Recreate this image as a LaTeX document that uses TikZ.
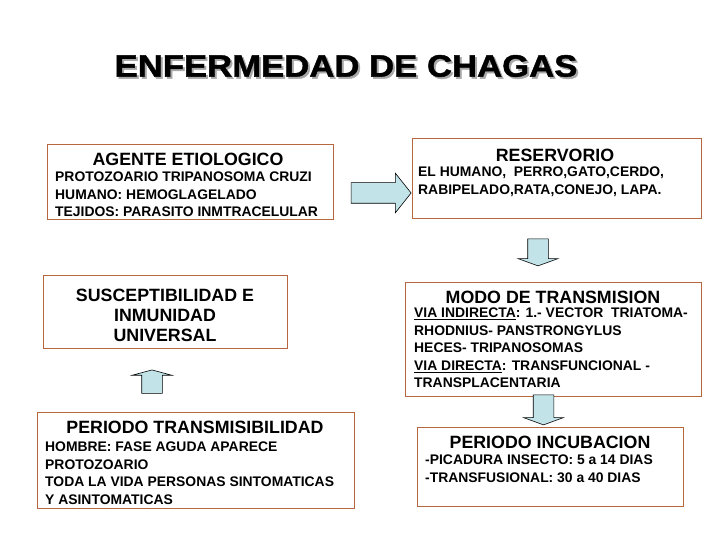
\documentclass[tikz,border=0pt]{standalone}
\usepackage{fontspec}
\setmainfont{Liberation Sans}
\newfontfamily\gruesa[FakeBold=1.2]{Liberation Sans Bold}
\usetikzlibrary{shapes.arrows}
\definecolor{ChagasBorde}{HTML}{B5673F}
\definecolor{ChagasCeleste}{HTML}{C2E4E8}
\definecolor{ChagasSombra}{HTML}{A8A8A8}
\tikzset{caja/.style={draw=ChagasBorde,line width=1pt,inner sep=0pt},
titulo/.style={font=\fontsize{31}{31}\gruesa,inner sep=0pt},
encabezado/.style={font=\fontsize{17.8}{20}\selectfont\bfseries,inner sep=0pt},
texto/.style={font=\fontsize{13.9}{17.5}\selectfont\bfseries,align=left,anchor=north west,inner sep=0pt},
flecha/.style={single arrow,draw=black,line width=0.6pt,fill=ChagasCeleste,inner sep=10pt,
single arrow head extend=9.5pt}}

\begin{document}
\begin{tikzpicture}[x=1pt,y=-1pt]
\useasboundingbox[fill=white](0,0)rectangle(720,540);
% titulo
\node[titulo,text=ChagasSombra](sombra)at(348,68){\scalebox{1.12}[1]{ENFERMEDAD DE CHAGAS}};
\node[titulo](titulo)at(346,66){\scalebox{1.12}[1]{ENFERMEDAD DE CHAGAS}};
% cajas
\node[caja,minimum width=286pt,minimum height=75pt](agente)at(190,182.5){};
\node[caja,minimum width=289pt,minimum height=80pt](reservorio)at(556.5,179){};
\node[caja,minimum width=244pt,minimum height=73pt](suscept)at(165,311.5){};
\node[caja,minimum width=296pt,minimum height=114pt](modo)at(553,339){};
\node[caja,minimum width=317pt,minimum height=96pt](transmis)at(195.5,460){};
\node[caja,minimum width=266pt,minimum height=79pt](incub)at(550,466.5){};
% textos
\node[encabezado](agenteT)at(188,159){AGENTE ETIOLOGICO};
\node[texto](agenteB)at(55,172){PROTOZOARIO TRIPANOSOMA CRUZI\\HUMANO: HEMOGLAGELADO\\TEJIDOS: PARASITO INMTRACELULAR};
\node[encabezado](reservorioT)at(555,155){RESERVORIO};
\node[texto](reservorioB)at(418,167){EL HUMANO,\ \ PERRO,GATO,CERDO,\\RABIPELADO,RATA,CONEJO, LAPA.};
\node[encabezado,align=center](susceptT)at(165,315){SUSCEPTIBILIDAD E\\INMUNIDAD\\UNIVERSAL};
\node[encabezado](modoT)at(553,297){MODO DE TRANSMISION};
\node[texto](modoB)at(414,308){\underline{VIA INDIRECTA}: 1.- VECTOR\ \ TRIATOMA-\\RHODNIUS- PANSTRONGYLUS\\HECES- TRIPANOSOMAS\\\underline{VIA DIRECTA}: TRANSFUNCIONAL -\\TRANSPLACENTARIA};
\node[encabezado](transmisT)at(195,427){PERIODO TRANSMISIBILIDAD};
\node[texto](transmisB)at(45,442){HOMBRE: FASE AGUDA APARECE\\PROTOZOARIO\\TODA LA VIDA PERSONAS SINTOMATICAS\\Y ASINTOMATICAS};
\node[encabezado](incubT)at(550,442){PERIODO INCUBACION};
\node[texto](incubB)at(425,455){-PICADURA INSECTO: 5 a 14 DIAS\\-TRANSFUSIONAL: 30 a 40 DIAS};
% flechas
\node[flecha,minimum height=60pt,single arrow tip angle=103](f1)at(377,193){};
\node[flecha,minimum height=27pt,single arrow tip angle=140,shape border rotate=270](f2)at(538,250.5){};
\node[flecha,minimum height=22pt,single arrow tip angle=150,shape border rotate=90](f3)at(152,383){};
\node[flecha,minimum height=30pt,single arrow tip angle=140,shape border rotate=270](f4)at(543.5,408){};
\end{tikzpicture}
\end{document}
